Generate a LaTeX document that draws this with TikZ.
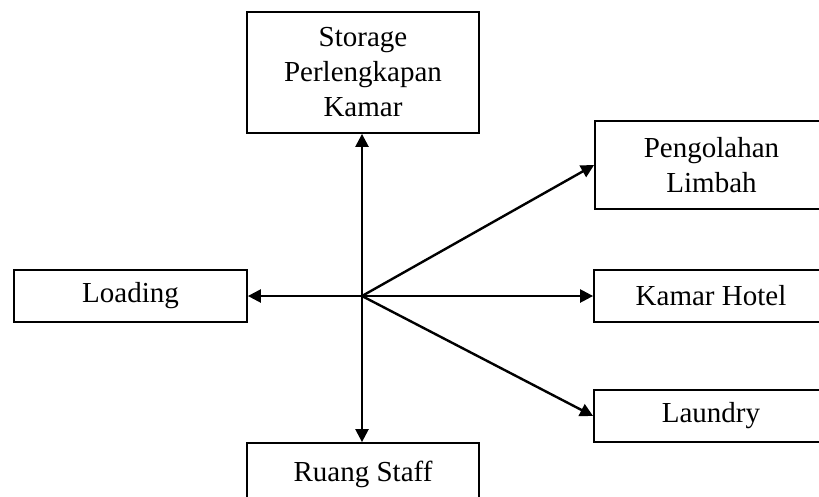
\documentclass[tikz,border=0pt]{standalone}
\usepackage{fontspec}
\setmainfont{Liberation Serif}
\usetikzlibrary{arrows.meta}
\begin{document}
\begin{tikzpicture}[x=1pt,y=-1pt,
  room/.style={draw, line width=1.8pt, rectangle, align=center, inner sep=0pt,
    font=\fontsize{29}{35}\selectfont},
  link/.style={line width=2.4pt, -{Triangle[length=13pt,width=13pt]}}]
  \useasboundingbox (0,0) rectangle (819,496);
  \fill[white] (0,0) rectangle (819,496);

  \node[room, minimum width=232pt, minimum height=121pt] (storage) at (363,72.5)
    {Storage\\Perlengkapan\\Kamar};
  \node[room, minimum width=233pt, minimum height=88pt] (limbah) at (711.5,165)
    {Pengolahan\\Limbah};
  \node[room, minimum width=233pt, minimum height=52pt] (loading) at (130.5,296)
    {Loading};
  \node[room, minimum width=234pt, minimum height=52pt] (kamar) at (711,296)
    {Kamar Hotel};
  \node[room, minimum width=234pt, minimum height=52pt] (laundry) at (711,416)
    {Laundry};
  % the lower box runs past the bottom edge of the page
  \node[room, minimum width=232pt, minimum height=62pt, text depth=0pt] (staff) at (363,474)
    {\raisebox{5pt}{Ruang Staff}};

  \coordinate (hub) at (362,296);
  \draw[link] (hub) -- (hub |- storage.south);
  \draw[link] (hub) -- (hub |- staff.north);
  \draw[link] (hub) -- (loading.east);
  \draw[link] (hub) -- (kamar.west);
  \draw[link] (hub) -- (limbah.west);
  \draw[link] (hub) -- (laundry.west);
\end{tikzpicture}
\end{document}
